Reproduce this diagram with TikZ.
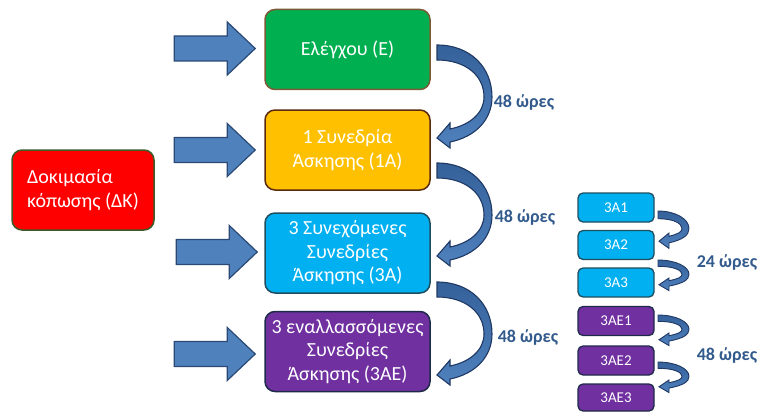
\documentclass[tikz,border=0pt]{standalone}
\usepackage{fontspec}
\setmainfont{Carlito}
\usetikzlibrary{calc}
\definecolor{cgreen}{HTML}{00B050}
\definecolor{cgreenb}{HTML}{7B5B35}
\definecolor{cyellow}{HTML}{FFC000}
\definecolor{cyellowb}{HTML}{5B2A0E}
\definecolor{ccyan}{HTML}{00B0F0}
\definecolor{ccyanb}{HTML}{1F4E5F}
\definecolor{cpurple}{HTML}{7030A0}
\definecolor{cpurpleb}{HTML}{1F2A4A}
\definecolor{cred}{HTML}{FF0000}
\definecolor{credb}{HTML}{3E5A28}
\definecolor{arrowblue}{HTML}{4F81BD}
\definecolor{arrowdark}{HTML}{35619A}
\definecolor{arrowborder}{HTML}{2A4A75}
\definecolor{curveborder}{HTML}{1F3864}
\definecolor{lblblue}{HTML}{325A8C}
\tikzset{
  mainbox/.style={rounded corners=10pt, minimum width=165pt, minimum height=80pt,
    line width=1.5pt, text=white, align=center, inner sep=2pt,
    font=\fontsize{20}{23.5}\selectfont},
  smallbox/.style={rounded corners=5pt, minimum width=76pt, minimum height=29pt,
    line width=1.3pt, text=white, inner sep=1pt, font=\fontsize{15}{18}\selectfont},
  lbl/.style={text=lblblue, inner sep=0pt, font=\bfseries\fontsize{18}{20}\selectfont},
  blockarrow/.pic={
    \path[fill=arrowblue, draw=arrowborder, line width=1.2pt, line join=miter]
      (0,-12.5) -- (53,-12.5) -- (53,-26.5) -- (81,0) -- (53,26.5) -- (53,12.5)
      -- (0,12.5) -- cycle;},
  bigcurve/.pic={
    \path[top color=arrowdark, bottom color=arrowblue, draw=curveborder, line width=1.1pt, line join=miter]
      (0,0) .. controls (33,0) and (55,22) .. (55,52)
      .. controls (55,75) and (38,92) .. (13,97)
      -- (13,103) -- (0,93) -- (13,78) -- (13,84)
      .. controls (33,80) and (47,68) .. (47,52)
      .. controls (47,30) and (28,15) .. (0,15) -- cycle;},
  smallcurve/.pic={
    \path[top color=arrowdark, bottom color=arrowblue, draw=curveborder, line width=0.9pt, line join=miter]
      (0,0) .. controls (17,0) and (31,7) .. (31,16)
      .. controls (31,22) and (25,26) .. (11,29)
      -- (11,34) -- (1,27.5) -- (11,20) -- (11,23)
      .. controls (20,21) and (24,19) .. (24,16)
      .. controls (24,11) and (15,7) .. (0,7) -- cycle;}
}
\begin{document}
\begin{tikzpicture}[x=1pt, y=-1pt]
\useasboundingbox (0,0) rectangle (758,412);

% main boxes
\node[mainbox, fill=cgreen, draw=cgreenb] (E) at (347.5,49.5) {Ελέγχου (Ε)};
\node[mainbox, fill=cyellow, draw=cyellowb] (A1) at (347.5,150) {1 Συνεδρία\\Άσκησης (1Α)};
\node[mainbox, fill=ccyan, draw=ccyanb] (A3) at (347.5,253) {3 Συνεχόμενες\\Συνεδρίες\\Άσκησης (3Α)};
\node[mainbox, fill=cpurple, draw=cpurpleb] (AE) at (347.5,351.5) {3 εναλλασσόμενες\\Συνεδρίες\\Άσκησης (3ΑΕ)};
\node[mainbox, fill=cred, draw=credb, minimum width=142pt, align=left] (DK) at (83,190) {Δοκιμασία\\κόπωσης (ΔΚ)};

% straight block arrows
\pic at ($(E.west)+(-90,-1)$) {blockarrow};
\pic at ($(A1.west)+(-90,0)$) {blockarrow};
\pic at ($(A3.west)+(-88,-1)$) {blockarrow};
\pic at ($(AE.west)+(-90,2.5)$) {blockarrow};

% curved arrows between main boxes
\pic at (437,45) {bigcurve};
\pic at (437,163) {bigcurve};
\pic at (437,282) {bigcurve};
\node[lbl] (L1) at (524,102) {48 ώρες};
\node[lbl] (L2) at (525,217) {48 ώρες};
\node[lbl] (L3) at (528,337) {48 ώρες};

% small boxes
\node[smallbox, fill=ccyan, draw=ccyanb] (s1) at (616,207.5) {3Α1};
\node[smallbox, fill=ccyan, draw=ccyanb] (s2) at (616,245) {3Α2};
\node[smallbox, fill=ccyan, draw=ccyanb] (s3) at (616,282.5) {3Α3};
\node[smallbox, fill=cpurple, draw=cpurpleb] (s4) at (616,321) {3ΑΕ1};
\node[smallbox, fill=cpurple, draw=cpurpleb] (s5) at (616,360.5) {3ΑΕ2};
\node[smallbox, fill=cpurple, draw=cpurpleb, minimum height=27pt] (s6) at (616,397.5) {3ΑΕ3};

% small curved arrows
\pic[yscale=1.1] at (658,211) {smallcurve};
\pic[yscale=0.9] at (658,260) {smallcurve};
\pic[yscale=0.9] at (658,315) {smallcurve};
\pic[yscale=0.9] at (658,362) {smallcurve};
\node[lbl] (L4) at (727,262) {24 ώρες};
\node[lbl] (L5) at (727,355) {48 ώρες};
\end{tikzpicture}
\end{document}
